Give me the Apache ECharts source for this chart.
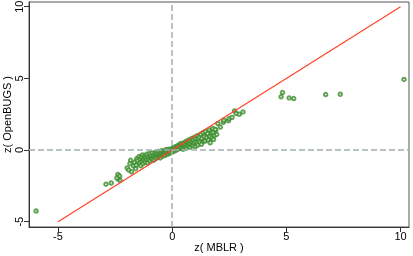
<!DOCTYPE html>
<html><head><meta charset="utf-8">
<script src="https://cdn.jsdelivr.net/npm/echarts@6/dist/echarts.min.js"></script>
<style>html,body{margin:0;padding:0;background:#fff}#c{width:413px;height:256px}</style>
</head><body><div id="c"></div>
<script>
const xTicks = [-5, 0, 5, 10];
const yTicks = [-5, 0, 5, 10];
const xName = 'z( MBLR )';
const yName = 'z( OpenBUGS )';
const fitLine = [[-5, -5], [10, 10]];
const refX = 0, refY = 0;
const points = [
[-5.96,-4.26],
[-2.90,-2.38],[-2.67,-2.30],[-2.38,-1.70],[-2.30,-1.82],[-2.35,-2.05],[-2.28,-2.12],[-2.42,-1.95],
[-1.97,-1.25],[-1.82,-0.72],[-1.90,-1.40],[-1.78,-1.52],[-1.85,-0.95],[-1.70,-1.10],[-1.65,-0.85],[-1.60,-1.30],[-1.55,-0.60],[-1.58,-1.05],[-1.52,-0.75],
[-1.45,-0.45],[-1.42,-0.90],[-1.40,-0.65],[-1.38,-1.10],[-1.35,-0.50],[-1.32,-0.80],[-1.30,-0.35],[-1.28,-0.95],[-1.25,-0.60],[-1.22,-0.72],[-1.20,-0.40],[-1.18,-0.85],[-1.15,-0.55],[-1.12,-0.30],[-1.10,-0.68],[-1.08,-0.90],[-1.05,-0.45],[-1.02,-0.60],[-1.00,-0.25],[-0.98,-0.75],[-0.95,-0.50],[-0.92,-0.38],[-0.90,-0.62],[-0.88,-0.20],[-0.85,-0.55],[-0.82,-0.42],[-0.80,-0.70],[-0.78,-0.30],[-0.75,-0.48],[-0.72,-0.15],[-0.70,-0.58],[-0.68,-0.36],[-0.65,-0.25],[-0.62,-0.50],[-0.60,-0.10],[-0.58,-0.40],[-0.55,-0.28],[-0.52,-0.55],[-0.50,-0.18],[-0.48,-0.35],[-0.45,-0.05],[-0.42,-0.42],[-0.40,-0.22],[-0.38,-0.30],[-0.35,-0.10],[-0.32,-0.38],[-0.30,-0.15],[-0.28,0.02],[-0.25,-0.25],[-0.22,-0.08],[-0.20,-0.30],[-0.18,0.05],[-0.15,-0.15],[-0.12,-0.22],[-0.10,0.00],[-0.08,-0.10],[-0.05,0.08],[-0.03,-0.18],[0.00,-0.02],
[0.03,0.12],[0.05,-0.08],[0.08,0.05],[0.10,0.20],[0.12,-0.05],[0.15,0.10],[0.18,0.25],[0.20,0.02],[0.22,0.15],[0.25,0.30],[0.28,0.08],[0.30,0.22],[0.33,0.40],[0.35,0.12],[0.38,0.28],[0.40,0.45],[0.42,0.18],[0.45,0.35],[0.48,0.05],[0.50,0.30],[0.52,0.50],[0.55,0.22],[0.58,0.40],[0.60,0.60],[0.62,0.15],[0.65,0.35],[0.68,0.55],[0.70,0.28],[0.72,0.70],[0.75,0.45],[0.78,0.20],[0.80,0.62],[0.82,0.38],[0.85,0.80],[0.88,0.50],[0.90,0.30],[0.92,0.72],[0.95,0.45],[0.98,0.90],[1.00,0.60],[1.02,0.25],[1.05,0.78],[1.08,0.50],[1.10,1.00],[1.12,0.35],[1.15,0.70],[1.18,0.90],[1.20,0.55],[1.25,1.10],[1.28,0.40],[1.30,0.80],[1.35,1.20],[1.38,0.62],[1.40,0.95],[1.45,1.30],[1.44,0.63],[1.50,0.85],[1.55,1.15],[1.58,0.70],[1.62,1.40],[1.66,0.51],[1.65,0.95],[1.72,1.25],[1.74,0.86],[1.78,1.50],[1.81,0.74],[1.85,1.02],[1.79,1.25],[1.91,1.39],[1.88,1.44],[1.95,1.09],[2.00,1.85],[2.11,1.60],
[2.24,1.94],[2.26,2.08],[2.46,2.04],[2.49,2.18],[2.62,2.27],[2.73,2.73],[2.80,2.55],[2.94,2.50],[3.10,2.66],
[4.83,4.01],[4.77,3.71],[5.12,3.64],[5.32,3.59],[6.72,3.87],[7.36,3.89],[10.15,4.93]
];

const chart = echarts.init(document.getElementById('c'), null, {renderer:'canvas'});
const font = 'Liberation Sans, Arial, sans-serif';
chart.setOption({
  animation: false,
  backgroundColor: '#fff',
  grid: {left: 29, right: 4, top: 2, bottom: 29, outerBoundsMode: 'none', containLabel: false,
         show: true, borderColor: '#555', borderWidth: 1, backgroundColor: '#fff'},
  xAxis: {
    type: 'value', min: -6.27, max: 10.37,
    name: xName, nameLocation: 'middle', nameGap: 15, nameMoveOverlap: false,
    nameTextStyle: {fontFamily: font, fontSize: 11, color: '#000'},
    axisLine: {show: true, onZero: false, lineStyle: {color: '#333', width: 1}},
    axisTick: {show: true, length: 5, customValues: xTicks, lineStyle: {color: '#333'}},
    axisLabel: {customValues: xTicks, margin: 4, fontFamily: font, fontSize: 11, color: '#000'},
    splitLine: {show: false}
  },
  yAxis: {
    type: 'value', min: -5.37, max: 10.33,
    name: yName, nameLocation: 'middle', nameGap: 16, nameMoveOverlap: false,
    nameTextStyle: {fontFamily: font, fontSize: 11, color: '#000'},
    axisLine: {show: true, onZero: false, lineStyle: {color: '#333', width: 1}},
    axisTick: {show: true, length: 5, customValues: yTicks, lineStyle: {color: '#333'}},
    axisLabel: {customValues: yTicks, rotate: 90, margin: 4, fontFamily: font, fontSize: 11, color: '#000'},
    splitLine: {show: false}
  },
  series: [
    {
      type: 'scatter', data: points, symbol: 'emptyCircle', symbolSize: 3.5,
      itemStyle: {color: '#3a8c2a', borderColor: '#3a8c2a', borderWidth: 0.9},
      z: 3,
      markLine: {
        silent: true, symbol: 'none', label: {show: false},
        lineStyle: {color: '#a3b0b0', type: [6, 3], width: 1.5},
        data: [{xAxis: refX}, {yAxis: refY}]
      }
    },
    {
      type: 'line', data: fitLine, showSymbol: false, symbol: 'none',
      lineStyle: {color: '#ff4228', width: 1.2}, z: 4
    }
  ]
});
</script></body></html>
